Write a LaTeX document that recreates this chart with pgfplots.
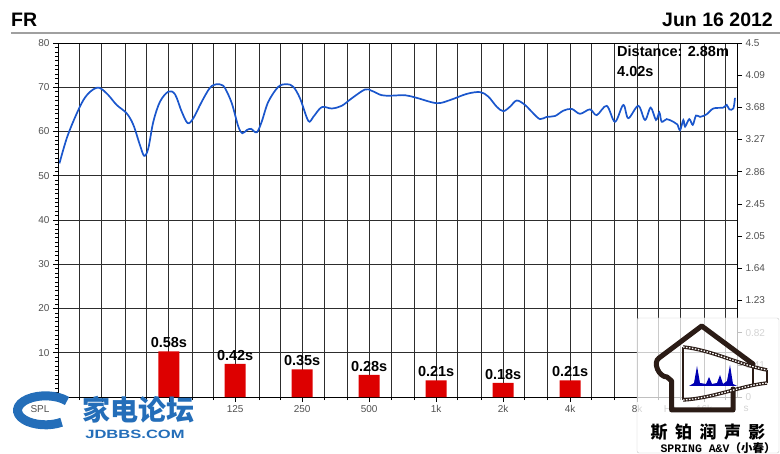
\documentclass[border=0pt]{standalone}
\usepackage{fontspec}
\setmainfont{Liberation Sans}
\setmonofont{Liberation Mono}
\newfontfamily\cjk{Noto Sans CJK SC}
\usepackage{pgfplots}
\pgfplotsset{compat=1.18}

\definecolor{frblue}{RGB}{26,86,204}
\definecolor{rtred}{RGB}{221,0,0}
\definecolor{ticktext}{RGB}{80,80,80}
\definecolor{gridc}{RGB}{45,45,45}
\definecolor{rulegray}{RGB}{160,160,160}
\definecolor{logoblue}{RGB}{36,110,185}
\definecolor{housebrown}{RGB}{43,28,22}

\pgfplotsset{
  fraxis/.style={
    at={(0,0)}, anchor=south west, scale only axis,
    width=679bp, height=354bp,
    xmin=20, xmax=22480,
    axis line style={black, line width=0.9bp},
    tick align=outside,
    major tick length=5bp, minor tick length=3bp,
    every tick/.style={black, line width=0.6bp},
    tick label style={font=\fontsize{10bp}{12bp}\selectfont, text=ticktext},
    /pgf/number format/assume math mode=true,
  }
}

\begin{document}
\begin{tikzpicture}
% SPL curve, left axis
\begin{semilogxaxis}[fraxis,
  ymin=0, ymax=80,
  ytick={0,10,...,80}, minor y tick num=9, ytick pos=left,
  xtick={31.5,63,125,250,500,1000,2000,4000,8000,16000},
  xticklabels={,,125,250,500,1k,2k,4k,8k,16k},
  minor xtick={25,40,50,80,100,160,200,315,400,630,800,1250,1600,2500,3150,5000,6300,10000,12500,20000},
  xtick pos=left,
  xmajorgrids, xminorgrids, ymajorgrids,
  major grid style={gridc, line width=0.9bp},
  minor grid style={gridc, line width=0.9bp},
  ]
\addplot[frblue, line width=1.7bp, smooth, tension=0.55] coordinates {
(20.3,52.8) (21.9,58.5) (23.9,63.3) (26.0,67.1) (27.9,69.0) (29.9,69.9)
(31.4,69.6) (33.7,68.2) (36.7,66.0) (40.7,64.1) (43.6,61.5) (46.7,56.9)
(48.8,54.5) (50.9,56.2) (53.6,62.2) (57.4,66.7) (62.6,69.0) (67.1,68.4)
(71.9,64.5) (76.5,61.9) (81.1,63.0) (88.4,66.7) (96.4,69.9) (103.3,70.7)
(108.8,70.5) (112.6,69.8) (120.7,66.4) (129.2,61.1) (134.6,59.6) (140.9,60.3)
(147.3,60.6) (156.3,59.8) (164.5,62.2) (176.1,66.7) (195.4,70.1) (213.0,70.7)
(228.2,70.1) (244.5,67.5) (266.5,62.4) (280.5,63.3) (306.1,65.5) (339.5,65.2)
(376.4,65.8) (417.6,67.5) (479.2,69.5) (513.4,69.2) (569.2,68.2) (631.6,68.1)
(724.6,68.2) (818,67.6) (1006,66.4) (1154,67.1) (1372,68.5) (1575,68.9)
(1715,67.9) (1871,65.6) (2003,64.6) (2147,65.6) (2301,67.0) (2507,66.0)
(2732,64.1) (2929,62.8) (3139,63.3) (3421,63.5) (3728,64.7) (4065,65.1)
(4430,64.0) (4912,65.0) (5265,63.7) (5840,65.8) (6362,62.2) (6933,66.0)
(7302,63.0) (8097,65.8) (8678,62.6) (9203,65.4) (9722,62.6) (10064,64.3)
(10310,62.2) (10860,62.8) (11630,62.2) (12120,61.6) (12470,60.3) (12900,62.6)
(13130,61.1) (13720,62.8) (14220,61.5) (14710,63.6) (15330,63.3) (16430,63.9)
(17600,65.2) (19510,65.4) (20210,66.0) (20760,65.0) (21640,65.2) (22010,67.6)
};
\end{semilogxaxis}

% decay times, right axis
\begin{semilogxaxis}[fraxis,
  ymin=0, ymax=4.5,
  xtick=\empty, minor xtick={},
  ytick pos=right, yticklabel pos=right,
  ytick={0,0.40909,0.81818,1.22727,1.63636,2.04545,2.45455,2.86364,3.27273,3.68182,4.09091,4.5},
  yticklabels={0,0.41,0.82,1.23,1.64,2.05,2.45,2.86,3.27,3.68,4.09,4.5},
  minor y tick num=9,
  ybar, bar width=21bp,
  point meta=y,
  nodes near coords={\pgfmathprintnumber[fixed,fixed zerofill,precision=2]{\pgfplotspointmeta}s},
  every node near coord/.append style={anchor=base, yshift=3.5bp, text=black,
    font=\bfseries\fontsize{14.5bp}{16bp}\selectfont},
  ]
\addplot[fill=rtred, draw=none] coordinates {
(63,0.58) (125,0.42) (250,0.35) (500,0.28) (1000,0.21) (2000,0.18) (4000,0.21)
};
\end{semilogxaxis}

% header, units, annotations and watermarks in pixel coordinates
\begin{scope}[x=1bp, y=-1bp, shift={(-58bp,397bp)}]
\node[anchor=base west, inner sep=0, font=\bfseries\fontsize{19.5bp}{22bp}\selectfont] at (11,27) {FR};
\node[anchor=base east, inner sep=0, font=\bfseries\fontsize{19.5bp}{22bp}\selectfont] at (773,27) {Jun 16 2012};
\draw[rulegray, line width=2.5bp] (11,33) -- (780,33);
\node[anchor=base west, inner sep=0, font=\bfseries\fontsize{14.5bp}{16bp}\selectfont] at (617,57) {Distance: 2.88m};
\node[anchor=base west, inner sep=0, font=\bfseries\fontsize{14.5bp}{16bp}\selectfont] at (617,77) {4.02s};
\node[font=\fontsize{10bp}{12bp}\selectfont, text=ticktext] at (40,409) {SPL};
\node[font=\fontsize{10bp}{12bp}\selectfont, text=ticktext] at (746,409) {s};
\node[font=\fontsize{10bp}{12bp}\selectfont, text=ticktext] at (670,409) {Hz};

% jdbbs watermark
\draw[logoblue, line width=9bp] (67,401) arc[start angle=40, end angle=305, x radius=28bp, y radius=14.5bp];
\node[text=logoblue, font=\cjk\bfseries\fontsize{28bp}{30bp}\selectfont, inner sep=0] at (138,410) {家电论坛};
\node[text=logoblue, font=\bfseries\fontsize{12bp}{14bp}\selectfont, inner sep=0, xscale=1.38] at (135,434) {JDBBS.COM};

% spring watermark
\draw[gray!45, fill=white, fill opacity=0.75, rounded corners=2bp] (637,318) rectangle (779,453);
\draw[housebrown, line width=5bp, line join=round, line cap=round]
  (753,364) -- (701.7,326) -- (659,358) to[out=215,in=180] (667,377) -- (671.7,381) -- (671.7,410) -- (733,410) -- (733,389);
\draw[housebrown, line width=3.5bp] (683,347) .. controls (712,350) and (740,365) .. (767,370);
\draw[housebrown, line width=3.5bp] (683,400) .. controls (714,398) and (740,386) .. (767,383);
\draw[housebrown, line width=2bp] (683,347) -- (683,400) (753,368) -- (753,384) (767,370) -- (767,383);
\draw[white, line width=1.3bp, dash pattern=on 1.5bp off 1.5bp] (683,347) .. controls (712,350) and (740,365) .. (767,370);
\draw[white, line width=1.3bp, dash pattern=on 1.5bp off 1.5bp] (683,400) .. controls (714,398) and (740,386) .. (767,383);
\fill[blue!70!black] (689,386) -- (694,383) -- (697,366) -- (700,383) -- (706,384) -- (709,377) -- (712,384) -- (717,383) -- (720,375) -- (723,384) -- (727,381) -- (730,365) -- (733,384) -- (737,386) -- cycle;
\node[font=\cjk\bfseries\fontsize{17bp}{19bp}\selectfont, inner sep=0] at (708,432)
  {斯\hspace{7.5bp}铂\hspace{7.5bp}润\hspace{7.5bp}声\hspace{7.5bp}影};
\node[font=\ttfamily\bfseries\fontsize{11.5bp}{13bp}\selectfont, inner sep=0] at (718,448) {SPRING A\&V{\cjk（小春）}};

\pgfresetboundingbox
\path[use as bounding box] (0,0) rectangle (780,454);
\end{scope}
\end{tikzpicture}
\end{document}
